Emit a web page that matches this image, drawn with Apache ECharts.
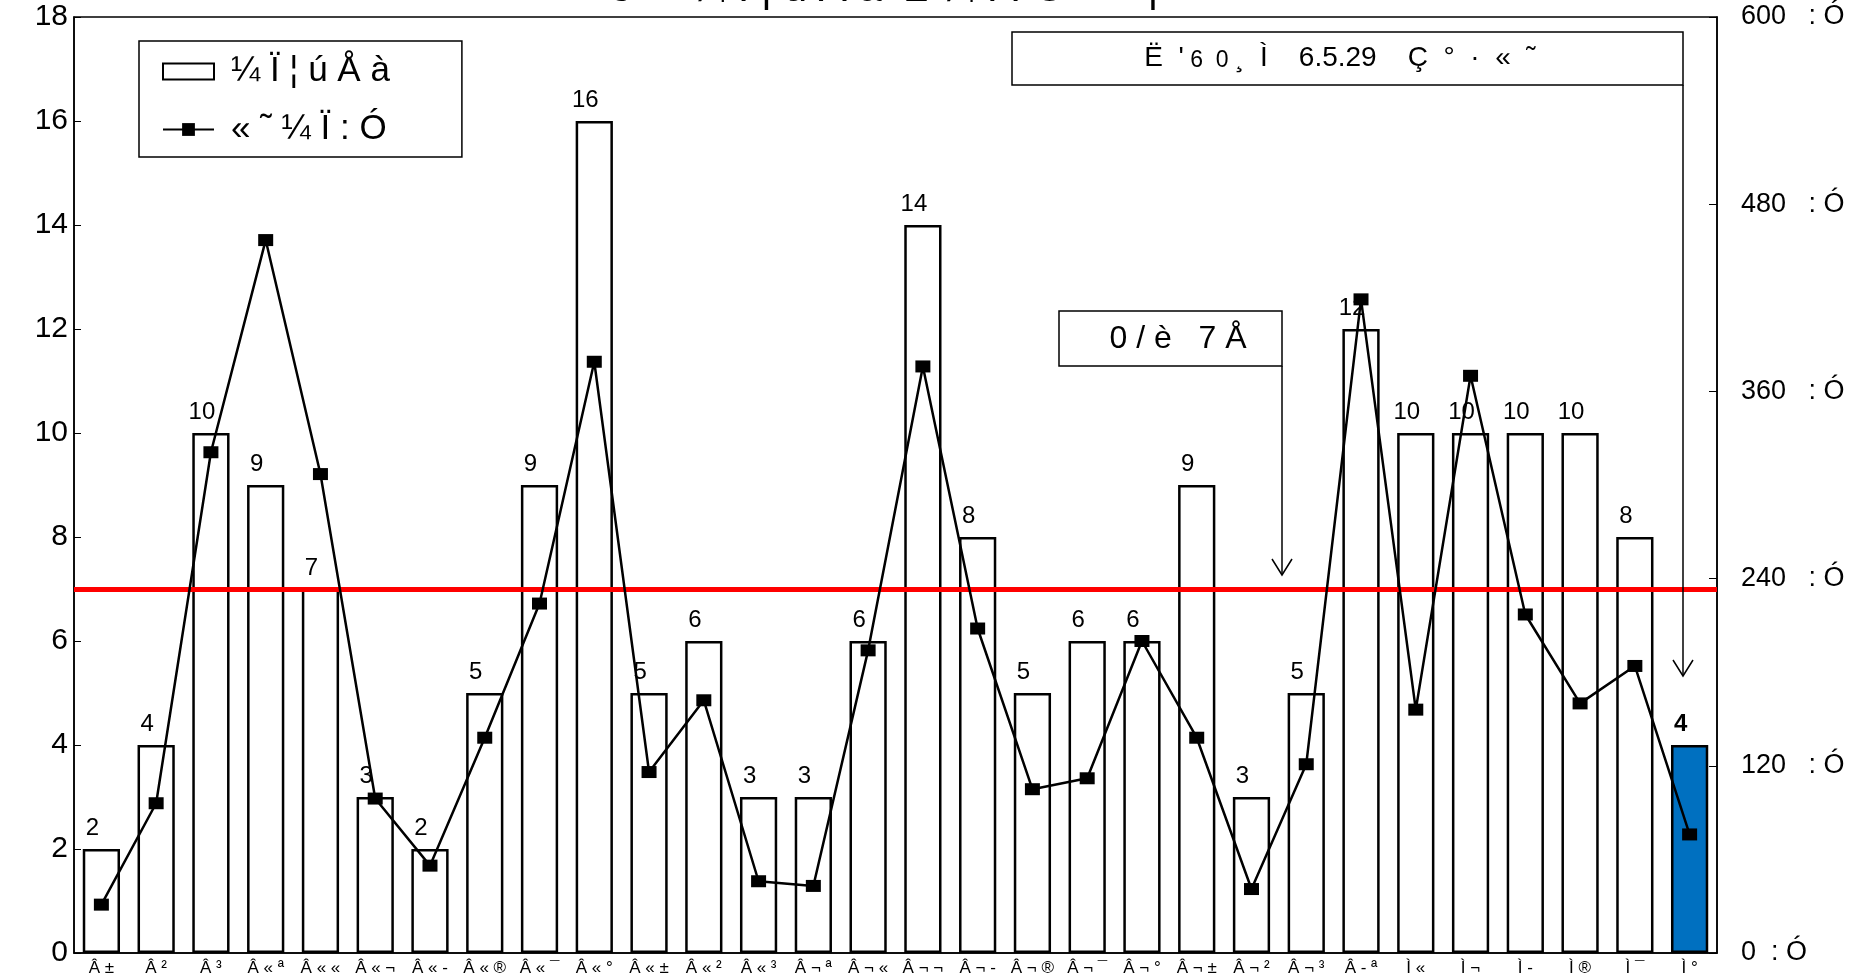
<!DOCTYPE html>
<html>
<head>
<meta charset="utf-8">
<script src="https://cdn.jsdelivr.net/npm/echarts@6/dist/echarts.min.js"></script>
<style>
html,body{margin:0;padding:0;background:#fff;}
#main{width:1860px;height:977px;}
</style>
</head>
<body>
<div id="main"></div>
<script>
const categories = ["Â ±","Â ²","Â ³","Â « ª","Â « «","Â « ¬","Â « -","Â « ®","Â « ¯","Â « °","Â « ±","Â « ²","Â « ³","Â ¬ ª","Â ¬ «","Â ¬ ¬","Â ¬ -","Â ¬ ®","Â ¬ ¯","Â ¬ °","Â ¬ ±","Â ¬ ²","Â ¬ ³","Â - ª","Ì «","Ì ¬","Ì -","Ì ®","Ì ¯","Ì °"];
const barValues = [2,4,10,9,7,3,2,5,9,16,5,6,3,3,6,14,8,5,6,6,9,3,5,12,10,10,10,10,8,4];
const lineValues = [31,96,321,457,307,99,56,138,224,379,116,162,46,43,194,376,208,105,112,200,138,41,121,419,156,370,217,160,184,76];
const thresholdValue = 7;
const barName = "¼ Ï ¦ ú Å à";
const lineName = "« ˜ ¼ Ï : Ó";
const titleText = "ö  ¯ ¼ Ï ¦ ú Å à  ± ¼ Ï Ï Ó    ¤ ¦";
const note1a = "Ë  '";
const note1b = " 6  0 ";
const note1c = "¸  Ì    6.5.29    Ç  °  ·  «  ˜";
const note2 = "0 / è   7 Å";
const rightSuffix = "   : Ó";
const rightSuffixZero = "  : Ó";

const FONT = "Liberation Sans, Arial, sans-serif";
const chart = echarts.init(document.getElementById('main'));

const barData = barValues.map((v, i) => {
  if (i === barValues.length - 1) {
    return {value: v, itemStyle: {color: '#0070C0'}, label: {fontWeight: 'bold'}};
  }
  return v;
});

const option = {
  animation: false,
  backgroundColor: '#fff',
  textStyle: {fontFamily: FONT, color: '#000'},
  grid: {left: 74, right: 143, top: 17, bottom: 24, show: true, borderColor: '#000', borderWidth: 1.5},
  legend: {
    orient: 'vertical', left: 139, top: 41,
    padding: [13, 72, 10, 23],
    borderColor: '#000', borderWidth: 1.5, backgroundColor: '#fff',
    itemWidth: 51, itemHeight: 16, itemGap: 23,
    textStyle: {fontSize: 35, fontFamily: FONT, color: '#000', padding: [0, 0, 0, 12]},
    data: [{name: barName, icon: 'rect'}, {name: lineName}]
  },
  xAxis: {
    type: 'category', data: categories,
    axisLine: {lineStyle: {color: '#000', width: 1.5}},
    axisTick: {inside: true, length: 4, lineStyle: {color: '#000'}},
    axisLabel: {interval: 0, fontSize: 17, color: '#000', margin: 7, fontFamily: FONT}
  },
  yAxis: [
    {type: 'value', min: 0, max: 18, interval: 2,
     splitLine: {show: false},
     axisLine: {show: true, lineStyle: {color: '#000', width: 1.5}},
     axisTick: {show: true, inside: true, length: 7, lineStyle: {color: '#000'}},
     axisLabel: {fontSize: 30, color: '#000', margin: 6, fontFamily: FONT}},
    {type: 'value', min: 0, max: 600, interval: 120,
     splitLine: {show: false},
     axisLine: {show: true, lineStyle: {color: '#000', width: 1.5}},
     axisTick: {show: true, inside: true, length: 8, lineStyle: {color: '#000'}},
     axisLabel: {fontSize: 27, color: '#000', margin: 24, fontFamily: FONT,
       formatter: v => v + (v === 0 ? rightSuffixZero : rightSuffix)}}
  ],
  series: [
    {
      name: barName, type: 'bar', data: barData, yAxisIndex: 0,
      barCategoryGap: '32%',
      itemStyle: {color: '#fff', borderColor: '#000', borderWidth: 2.5},
      label: {show: true, position: 'top', distance: 6, offset: [-9, -3], fontSize: 24, color: '#000', fontFamily: FONT},
      markLine: {
        silent: true, symbol: 'none', label: {show: false},
        lineStyle: {color: '#ff0000', width: 5, type: 'solid'},
        data: [{yAxis: thresholdValue}]
      },
      z: 2
    },
    {
      name: lineName, type: 'line', data: lineValues, yAxisIndex: 1,
      symbol: 'rect', symbolSize: [15, 12],
      itemStyle: {color: '#000'},
      lineStyle: {color: '#000', width: 2.5},
      z: 5
    }
  ],
  graphic: [
    {type: 'text', x: 884, y: 10, z: 10,
     style: {text: titleText, fontSize: 42, fontFamily: FONT, fill: '#000', align: 'center', verticalAlign: 'bottom'}},
    {type: 'rect', shape: {x: 1012, y: 32, width: 671, height: 53},
     style: {fill: '#fff', stroke: '#000', lineWidth: 1.5}, z: 10},
    {type: 'text', x: 1340, y: 58, z: 11,
     style: {text: '{a|' + note1a + '}{s|' + note1b + '}{a|' + note1c + '}', align: 'center', verticalAlign: 'middle',
       fill: '#000', fontFamily: FONT,
       rich: {a: {fontSize: 28, fontFamily: FONT, fill: '#000', verticalAlign: 'bottom'},
              s: {fontSize: 23, fontFamily: FONT, fill: '#000', verticalAlign: 'bottom'}}}},
    {type: 'polyline', shape: {points: [[1683, 85], [1683, 676]]}, style: {stroke: '#000', lineWidth: 1.5, fill: null}, z: 10},
    {type: 'polyline', shape: {points: [[1673, 660], [1683, 676], [1693, 660]]}, style: {stroke: '#000', lineWidth: 1.5, fill: null}, z: 10},
    {type: 'rect', shape: {x: 1059, y: 311, width: 223, height: 55},
     style: {fill: '#fff', stroke: '#000', lineWidth: 1.5}, z: 10},
    {type: 'text', x: 1178, y: 339, z: 11,
     style: {text: note2, fontSize: 32, fontFamily: FONT, fill: '#000', align: 'center', verticalAlign: 'middle'}},
    {type: 'polyline', shape: {points: [[1282, 366], [1282, 575]]}, style: {stroke: '#000', lineWidth: 1.5, fill: null}, z: 10},
    {type: 'polyline', shape: {points: [[1272, 559], [1282, 575], [1292, 559]]}, style: {stroke: '#000', lineWidth: 1.5, fill: null}, z: 10}
  ]
};
chart.setOption(option);
</script>
</body>
</html>
